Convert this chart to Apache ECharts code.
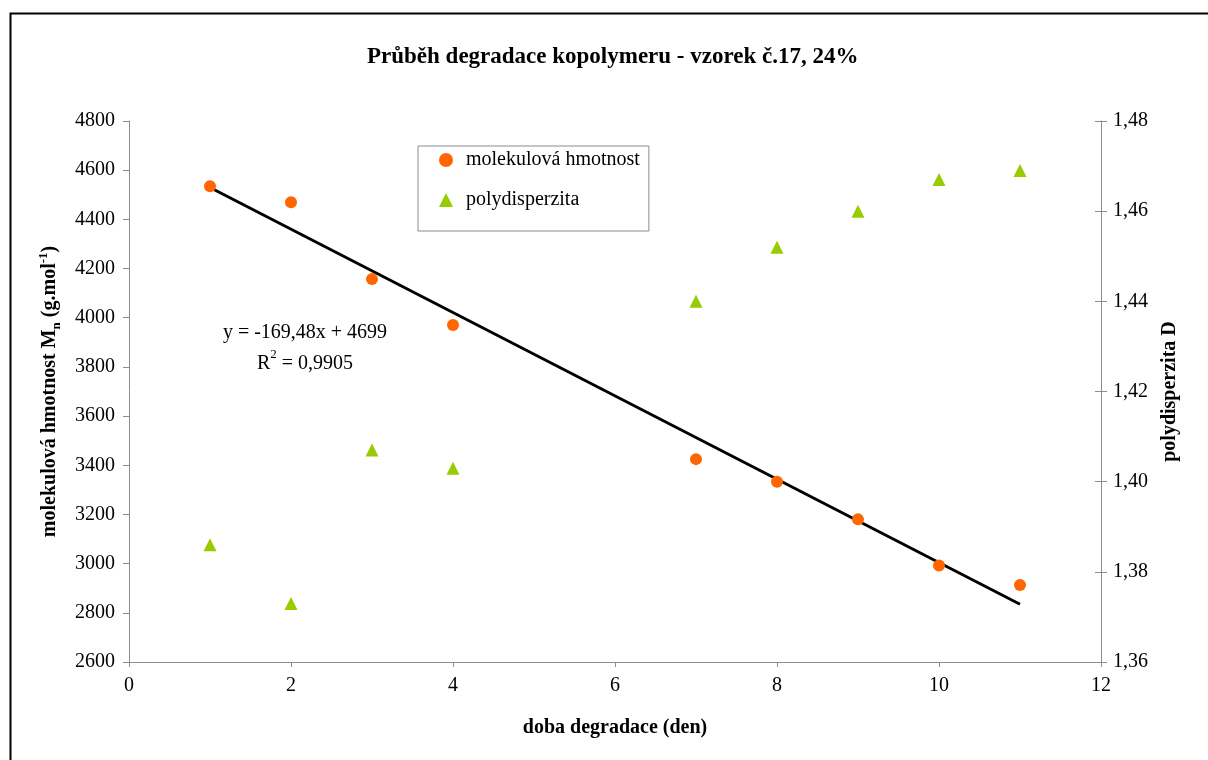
<!DOCTYPE html>
<html>
<head>
<meta charset="utf-8">
<script src="https://cdn.jsdelivr.net/npm/echarts@6/dist/echarts.min.js"></script>
<style>
html,body{margin:0;padding:0;background:#fff;}
#chart{width:1208px;height:760px;}
</style>
</head>
<body>
<div id="chart"></div>
<script>
// ---- data ----
const days = [1, 2, 3, 4, 7, 8, 9, 10, 11];
const molWeight = [4535, 4470, 4157, 3970, 3425, 3333, 3180, 2992, 2913];
const polydisp = [1.386, 1.373, 1.407, 1.403, 1.440, 1.452, 1.460, 1.467, 1.469];
const trendSlope = -169.48;
const trendIntercept = 4699;
const trendX = [1, 11];
const xTicks = [0, 2, 4, 6, 8, 10, 12];
const leftTicks = [2600, 2800, 3000, 3200, 3400, 3600, 3800, 4000, 4200, 4400, 4600, 4800];
const rightTicks = [1.36, 1.38, 1.40, 1.42, 1.44, 1.46, 1.48];

const titleText = 'Průběh degradace kopolymeru - vzorek č.17, 24%';
const seriesNames = ['molekulová hmotnost', 'polydisperzita'];

const FONT = 'Liberation Serif';
const axisGray = '#8c8c8c';

const chart = echarts.init(document.getElementById('chart'));

const fmtComma = v => v.toFixed(2).replace('.', ',');

const option = {
  backgroundColor: '#fff',
  animation: false,
  textStyle: { fontFamily: FONT, color: '#000' },
  title: {
    text: titleText,
    left: 362,
    top: 41,
    textStyle: { fontFamily: FONT, fontSize: 23, fontWeight: 'bold', color: '#000' }
  },
  grid: { left: 129, right: 107, top: 121, bottom: 98, containLabel: false },
  legend: {
    orient: 'vertical',
    left: 418,
    top: 146,
    padding: [4, 9, 21, 21],
    itemGap: 20,
    itemWidth: 14,
    itemHeight: 14,
    borderColor: '#8c8c8c',
    borderWidth: 1,
    backgroundColor: '#fff',
    textStyle: { fontFamily: FONT, fontSize: 20, color: '#000', padding: [0, 0, 0, 8] },
    data: [
      { name: seriesNames[0], icon: 'circle' },
      { name: seriesNames[1], icon: 'triangle' }
    ]
  },
  xAxis: {
    type: 'value',
    min: xTicks[0],
    max: xTicks[xTicks.length - 1],
    interval: 2,
    name: 'doba degradace (den)',
    nameLocation: 'middle',
    nameGap: 56,
    nameTextStyle: { fontFamily: FONT, fontSize: 20, fontWeight: 'bold', color: '#000' },
    axisLine: { show: true, onZero: false, lineStyle: { color: axisGray, width: 1 } },
    axisTick: { show: true, length: 5, lineStyle: { color: axisGray } },
    axisLabel: { fontFamily: FONT, fontSize: 20, color: '#000', margin: 14 },
    splitLine: { show: false }
  },
  yAxis: [
    {
      type: 'value',
      position: 'left',
      min: leftTicks[0],
      max: leftTicks[leftTicks.length - 1],
      interval: 200,
      name: '{b|molekulová hmotnost M}{sub|n}{b| (g.mol}{sup|-1}{b|)}',
      nameLocation: 'middle',
      nameGap: 66,
      nameRotate: 90,
      nameTextStyle: {
        fontFamily: FONT, fontSize: 20, fontWeight: 'bold', color: '#000',
        rich: {
          b: { fontFamily: FONT, fontSize: 20, fontWeight: 'bold', color: '#000', lineHeight: 26, verticalAlign: 'middle' },
          sub: { fontFamily: FONT, fontSize: 13, fontWeight: 'bold', color: '#000', lineHeight: 26, verticalAlign: 'bottom' },
          sup: { fontFamily: FONT, fontSize: 13, fontWeight: 'bold', color: '#000', lineHeight: 26, verticalAlign: 'top' }
        }
      },
      axisLine: { show: true, lineStyle: { color: axisGray, width: 1 } },
      axisTick: { show: true, length: 6, lineStyle: { color: axisGray } },
      axisLabel: { fontFamily: FONT, fontSize: 20, color: '#000', margin: 14, formatter: v => String(v) },
      splitLine: { show: false }
    },
    {
      type: 'value',
      position: 'right',
      min: rightTicks[0],
      max: rightTicks[rightTicks.length - 1],
      interval: 0.02,
      name: 'polydisperzita D',
      nameLocation: 'middle',
      nameGap: 59,
      nameRotate: 90,
      nameTextStyle: { fontFamily: FONT, fontSize: 20, fontWeight: 'bold', color: '#000' },
      axisLine: { show: true, lineStyle: { color: axisGray, width: 1 } },
      axisTick: { show: true, length: 6, lineStyle: { color: axisGray } },
      axisLabel: { fontFamily: FONT, fontSize: 20, color: '#000', margin: 12, formatter: fmtComma },
      splitLine: { show: false }
    },
    {
      type: 'value',
      position: 'right',
      min: rightTicks[0],
      max: rightTicks[rightTicks.length - 1],
      interval: 0.02,
      axisLine: { show: false },
      axisTick: { show: true, inside: true, length: 6, lineStyle: { color: axisGray } },
      axisLabel: { show: false },
      splitLine: { show: false }
    }
  ],
  series: [
    {
      name: 'trend',
      type: 'line',
      yAxisIndex: 0,
      data: trendX.map(x => [x, trendSlope * x + trendIntercept]),
      showSymbol: false,
      symbol: 'none',
      lineStyle: { color: '#000', width: 3 },
      z: 3,
      silent: true
    },
    {
      name: seriesNames[0],
      type: 'scatter',
      yAxisIndex: 0,
      data: days.map((d, i) => [d, molWeight[i]]),
      symbol: 'circle',
      symbolSize: 12,
      itemStyle: { color: '#ff6600', opacity: 1 },
      z: 4
    },
    {
      name: seriesNames[1],
      type: 'scatter',
      yAxisIndex: 1,
      data: days.map((d, i) => [d, polydisp[i]]),
      symbol: 'triangle',
      symbolSize: 13,
      itemStyle: { color: '#99cc00', opacity: 1 },
      z: 4
    }
  ],
  graphic: [
    {
      type: 'rect',
      left: 8, top: 11,
      shape: { width: 1220, height: 800 },
      style: { fill: 'none', stroke: '#000', lineWidth: 2 },
      silent: true, z: 0
    },
    {
      type: 'text',
      x: 305, y: 333,
      style: {
        text: 'y = -169,48x + 4699',
        font: '20px "Liberation Serif"',
        fill: '#000',
        align: 'center',
        verticalAlign: 'middle'
      },
      z: 10
    },
    {
      type: 'text',
      x: 305, y: 361,
      style: {
        text: '{a|R}{s|2}{a| = 0,9905}',
        align: 'center',
        verticalAlign: 'middle',
        rich: {
          a: { fontFamily: FONT, fontSize: 20, fill: '#000', lineHeight: 26, verticalAlign: 'bottom' },
          s: { fontFamily: FONT, fontSize: 13, fill: '#000', lineHeight: 26, verticalAlign: 'top' }
        }
      },
      z: 10
    }
  ]
};

chart.setOption(option);
</script>
</body>
</html>
